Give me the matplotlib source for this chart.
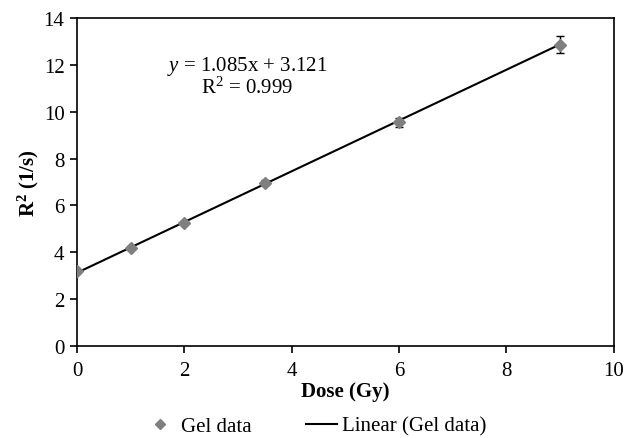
import matplotlib.pyplot as plt
import numpy as np

plt.rcParams['font.family'] = ['Liberation Serif', 'DejaVu Serif']
plt.rcParams['mathtext.fontset'] = 'custom'
plt.rcParams['mathtext.rm'] = 'Liberation Serif'
plt.rcParams['mathtext.it'] = 'Liberation Serif:italic'
plt.rcParams['mathtext.bf'] = 'Liberation Serif:bold'

# ------------------------------------------------------------------
# Data
# ------------------------------------------------------------------
dose = [0, 1, 2, 3.5, 6, 9]
r2 = [3.2, 4.2, 5.25, 6.98, 9.55, 12.88]
r2_err = [0.05, 0.05, 0.06, 0.12, 0.2, 0.35]

slope = 1.085
intercept = 3.121

x_ticks = [0, 2, 4, 6, 8, 10]
y_ticks = [0, 2, 4, 6, 8, 10, 12, 14]

# ------------------------------------------------------------------
# Plot
# ------------------------------------------------------------------
fig = plt.figure(figsize=(6.36, 4.39), dpi=100)
ax = fig.add_axes([0.121, 0.21, 0.844, 0.746])

ax.errorbar(dose, r2, yerr=r2_err, fmt='none', ecolor='black', elinewidth=1.0,
            capsize=3, capthick=1.0, zorder=2)
ax.plot(dose, r2, linestyle='none', marker='D', markersize=6.5, color='#7f7f7f',
        label='Gel data', zorder=3)

xf = np.array([dose[0], dose[-1]])
ax.plot(xf, slope * xf + intercept, color='black', linewidth=1.5,
        label='Linear (Gel data)', zorder=2.5)

ax.set_xlim(0, 10)
ax.set_ylim(0, 14)
ax.set_xticks(x_ticks)
ax.set_yticks(y_ticks)
ax.tick_params(direction='out', length=5, width=1.2, labelsize=15, colors='black')
ax.tick_params(axis='x', pad=6)
ax.tick_params(axis='y', pad=4)
for s in ax.spines.values():
    s.set_linewidth(1.2)

ax.set_xlabel('Dose (Gy)', fontsize=15, fontweight='bold', labelpad=1)
ax.set_ylabel(r'R$^\mathbf{2}$ (1/s)', fontsize=15, fontweight='bold', labelpad=2)

ax.text(3.17, 11.97, r'$y$ = 1.085x + 3.121', fontsize=15, ha='center', va='center')
ax.text(3.17, 11.07, r'R$^2$ = 0.999', fontsize=15, ha='center', va='center')

ax.legend(loc='upper center', bbox_to_anchor=(0.445, -0.215), ncol=2, frameon=False,
          fontsize=15, handlelength=1.5, handletextpad=0.25, columnspacing=2.6,
          markerscale=0.8, borderaxespad=0, borderpad=0)

fig.savefig('out.png', dpi=100)
